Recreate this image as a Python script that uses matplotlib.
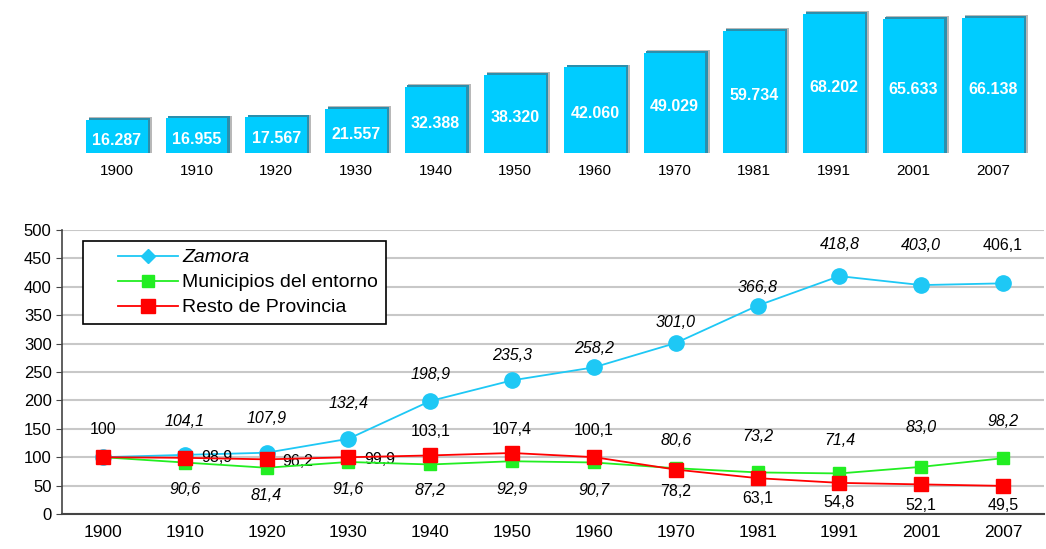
import numpy as np
import matplotlib
matplotlib.use("Agg")
import matplotlib.pyplot as plt
from matplotlib.lines import Line2D
from matplotlib.legend_handler import HandlerLine2D

plt.rcParams['font.family'] = ['Liberation Sans', 'DejaVu Sans']

# datos
years = ["1900", "1910", "1920", "1930", "1940", "1950", "1960", "1970", "1981", "1991", "2001", "2007"]
poblacion = [16287, 16955, 17567, 21557, 32388, 38320, 42060, 49029, 59734, 68202, 65633, 66138]
poblacion_txt = ["16.287", "16.955", "17.567", "21.557", "32.388", "38.320", "42.060", "49.029",
                 "59.734", "68.202", "65.633", "66.138"]

zamora = [100, 104.1, 107.9, 132.4, 198.9, 235.3, 258.2, 301.0, 366.8, 418.8, 403.0, 406.1]
municipios = [100, 90.6, 81.4, 91.6, 87.2, 92.9, 90.7, 80.6, 73.2, 71.4, 83.0, 98.2]
resto = [100, 98.9, 96.2, 99.9, 103.1, 107.4, 100.1, 78.2, 63.1, 54.8, 52.1, 49.5]
series = ["Zamora", "Municipios del entorno", "Resto de Provincia"]

x = np.arange(len(years))

fig = plt.figure(figsize=(10.46, 5.49), dpi=100)

# ---- barras de arriba ----
ax1 = fig.add_axes([77 / 1046, 1 - 153 / 549, (1033 - 77) / 1046, 153 / 549])
w = 0.77
ax1.bar(x + 0.045, np.array(poblacion) + 1300, width=w + 0.02, color="#b8b8b8", zorder=1)
ax1.bar(x + 0.03, np.array(poblacion) + 1000, width=w, color="#2b8fad", zorder=2)
ax1.bar(x, poblacion, width=w, color="#00ccff", zorder=3)
for xi, v, t in zip(x, poblacion, poblacion_txt):
    ax1.text(xi, v / 2 - 1800, t, color="white", fontsize=11.5, fontweight="bold",
             ha="center", va="center", zorder=4)
ax1.set_xlim(-0.5, 11.5)
ax1.set_ylim(0, 75000)
ax1.set_xticks(x)
ax1.set_xticklabels(years, fontsize=11)
ax1.tick_params(axis="x", length=0, pad=8)
ax1.set_yticks([])
for s in ax1.spines.values():
    s.set_visible(False)

# ---- lineas de abajo ----
ax2 = fig.add_axes([62 / 1046, 1 - 514 / 549, (1044 - 62) / 1046, (514 - 230) / 549])
ax2.plot(x, zamora, "-o", color="#1ec8f5", lw=1.3, ms=11, zorder=3)
ax2.plot(x, municipios, "-s", color="#22ee22", lw=1.3, ms=9, zorder=4)
ax2.plot(x, resto, "-s", color="#ff0000", lw=1.3, ms=9.5, zorder=5)

# etiquetas (desplazamientos en pixeles)
z_off = [(0, 28), (0, 33), (0, 34), (0, 35), (0, 27), (0, 25), (0, 19), (0, 21), (0, 18), (0, 32), (0, 40), (0, 38)]
m_off = [None, (0, -27), (0, -28), (0, -28), (0, -26), (0, -28), (0, -28), (0, 28), (0, 36), (0, 33), (0, 39), (0, 37)]
r_off = [None, (32, 0), (31, -2), (31, -2), (0, 24), (0, 23), (0, 27), (0, -22), (0, -20), (0, -20), (0, -21), (0, -20)]

def fmt(v):
    return ("%.1f" % v).replace(".", ",")

for i in x:
    t = "100" if i == 0 else fmt(zamora[i])
    st = "normal" if i in (0, 11) else "italic"
    ax2.annotate(t, (i, zamora[i]), xytext=z_off[i], textcoords="offset pixels",
                 ha="center", va="center", fontsize=11.5, style=st)
    if m_off[i] is not None:
        ax2.annotate(fmt(municipios[i]), (i, municipios[i]), xytext=m_off[i], textcoords="offset pixels",
                     ha="center", va="center", fontsize=11.5, style="italic")
    if r_off[i] is not None:
        ax2.annotate(fmt(resto[i]), (i, resto[i]), xytext=r_off[i], textcoords="offset pixels",
                     ha="center", va="center", fontsize=11.5)

ax2.set_xlim(-0.5, 11.5)
ax2.set_ylim(0, 500)
ax2.set_yticks(np.arange(0, 501, 50))
ax2.set_xticks(x)
ax2.set_xticklabels(years, fontsize=12.5)
ax2.tick_params(axis="x", length=0, pad=8)
ax2.tick_params(axis="y", labelsize=12, length=4, color="#444444")
ax2.grid(axis="y", color="#c8c8c8", lw=1.5)
ax2.set_axisbelow(True)
ax2.spines["top"].set_visible(False)
ax2.spines["right"].set_visible(False)
ax2.spines["left"].set_color("#444444")
ax2.spines["bottom"].set_color("#444444")
ax2.spines["left"].set_linewidth(1.2)
ax2.spines["bottom"].set_linewidth(1.5)

handles = [
    Line2D([], [], color="#1ec8f5", lw=1.3, marker="D", ms=7),
    Line2D([], [], color="#22ee22", lw=1.3, marker="s", ms=8),
    Line2D([], [], color="#ff0000", lw=1.3, marker="s", ms=10),
]
hmap = {h: HandlerLine2D(xpad=1.4) for h in handles}
leg = ax2.legend(handles, series, loc="upper left", bbox_to_anchor=(21 / 982, 1 - 11 / 284), fontsize=14,
                 fancybox=False, framealpha=1, edgecolor="black", borderaxespad=0,
                 handlelength=4.5, handletextpad=0.2, labelspacing=0.38, borderpad=0.4,
                 handler_map=hmap)
leg.get_frame().set_linewidth(1.2)
leg.get_texts()[0].set_style("italic")

fig.savefig("out.png", dpi=100)
